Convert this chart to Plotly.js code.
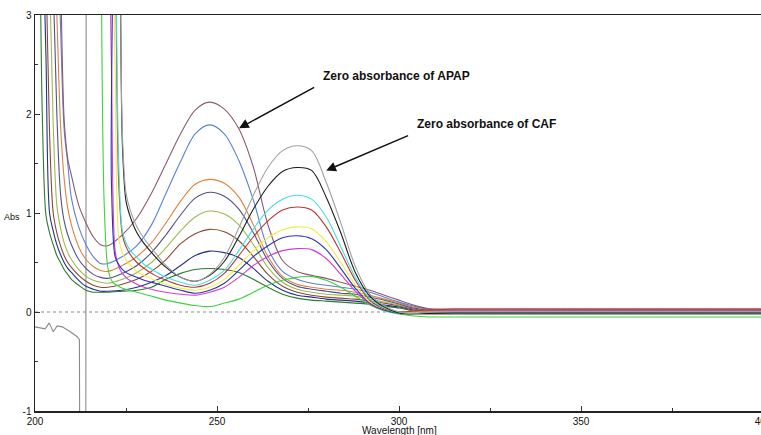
<!DOCTYPE html>
<html>
<head>
<meta charset="utf-8">
<script src="https://cdn.plot.ly/plotly-3.0.1.min.js"></script>
<style>
html,body{margin:0;padding:0;overflow:hidden;background:#fff;}
#chart{width:763px;height:435px;}
</style>
</head>
<body>
<div id="chart"></div>
<script>
// Wavelength grids (nm)
var wlA = [200,201,202,203,204,205,206,207,208,209,210,212,214,216,218,220,224,228,232,236,240,244,248,252,256,260,264,268,272,276,280,284,288,292,296,300,304,308,315,330,350,375,400];
var wlC = [218,219,220,221,222,223,224,225,226,228,230,233,236,240,244,248,252,256,260,264,268,272,276,280,284,288,292,296,300,304,308,315,330,350,375,400];

// APAP-containing spectra (absorbance)
var apapMauve = [5,5,5,5,5,4.8,4.4,3.4,1.95,1.55,1.38,1.08,0.9,0.76,0.68,0.67,0.78,0.95,1.2,1.5,1.8,2.04,2.12,2.05,1.85,1.46,0.88,0.52,0.41,0.37,0.34,0.3,0.26,0.22,0.17,0.12,0.07,0.035,0.03,0.03,0.03,0.03,0.03];
var apapBlue  = [5,5,5,5,5,5,4.0,2.9,1.85,1.5,1.15,0.86,0.68,0.56,0.49,0.49,0.56,0.67,0.88,1.2,1.52,1.8,1.89,1.8,1.53,1.13,0.64,0.41,0.33,0.29,0.27,0.25,0.23,0.2,0.15,0.1,0.06,0.03,0.02,0.02,0.02,0.02,0.02];
var apapOrange= [5,5,5,5,5,4.0,3.0,1.9,1.35,1.05,0.88,0.66,0.53,0.46,0.42,0.41,0.47,0.56,0.7,0.9,1.12,1.29,1.34,1.3,1.16,0.88,0.56,0.36,0.28,0.25,0.23,0.22,0.2,0.17,0.13,0.09,0.05,0.025,0.02,0.02,0.025,0.025,0.025];
var apapSlate = [5,5,5,5,4.0,3.3,2.0,1.2,0.92,0.78,0.68,0.53,0.44,0.38,0.35,0.34,0.39,0.47,0.6,0.78,0.98,1.15,1.21,1.17,1.04,0.8,0.52,0.34,0.26,0.23,0.21,0.19,0.18,0.15,0.12,0.08,0.04,0.02,0.015,0.015,0.015,0.015,0.015];
var apapOlive = [5,5,5,4.2,3.4,1.9,1.08,0.85,0.7,0.6,0.53,0.43,0.36,0.32,0.3,0.29,0.33,0.4,0.5,0.65,0.82,0.96,1.02,0.99,0.88,0.68,0.45,0.3,0.23,0.2,0.18,0.17,0.16,0.13,0.1,0.07,0.04,0.02,0.015,0.015,0.015,0.015,0.015];
var apapBrown = [5,5,4.5,3.5,1.8,1.0,0.8,0.67,0.57,0.5,0.45,0.37,0.31,0.27,0.25,0.25,0.28,0.33,0.41,0.53,0.69,0.79,0.835,0.81,0.72,0.56,0.38,0.26,0.2,0.17,0.15,0.14,0.13,0.11,0.09,0.06,0.03,0.015,0.01,0.01,0.01,0.01,0.01];
var apapNavy  = [5,5,4.0,2.6,1.0,0.82,0.68,0.58,0.5,0.44,0.4,0.32,0.26,0.23,0.21,0.21,0.22,0.25,0.3,0.37,0.47,0.57,0.615,0.6,0.55,0.44,0.31,0.22,0.17,0.15,0.13,0.12,0.11,0.09,0.07,0.05,0.02,0.0,-0.01,-0.01,-0.01,-0.01,-0.01];
var apapGreen = [5,4.3,2.0,0.98,0.8,0.68,0.57,0.5,0.43,0.38,0.33,0.27,0.22,0.2,0.2,0.2,0.21,0.22,0.25,0.33,0.39,0.43,0.44,0.43,0.4,0.33,0.25,0.18,0.14,0.12,0.11,0.1,0.09,0.08,0.06,0.04,0.01,-0.01,-0.02,-0.02,-0.02,-0.02,-0.02];

// CAF-containing spectra (absorbance)
var cafGray    = [5,5,5,5,5,4.5,1.8,1.2,1.05,0.86,0.74,0.6,0.47,0.35,0.31,0.38,0.55,0.85,1.18,1.46,1.63,1.68,1.63,1.31,0.9,0.46,0.18,0.06,0.0,-0.02,-0.025,-0.025,-0.025,-0.025,-0.025,-0.025];
var cafBlack   = [5,5,5,5,5,4.5,1.7,1.12,0.98,0.8,0.69,0.56,0.45,0.35,0.31,0.37,0.51,0.76,1.04,1.27,1.42,1.46,1.43,1.16,0.8,0.4,0.16,0.05,-0.01,-0.02,-0.015,-0.01,-0.01,-0.01,-0.01,-0.01];
var cafCyan    = [5,5,5,5,4.0,1.5,0.82,0.7,0.63,0.55,0.48,0.41,0.35,0.3,0.27,0.32,0.42,0.62,0.84,1.03,1.14,1.18,1.14,0.96,0.66,0.35,0.13,0.04,-0.01,-0.02,-0.02,-0.02,-0.02,-0.02,-0.02,-0.02];
var cafRed     = [5,5,5,5,3.8,1.3,0.78,0.66,0.59,0.5,0.44,0.37,0.32,0.27,0.25,0.29,0.39,0.57,0.76,0.92,1.03,1.06,1.03,0.86,0.6,0.32,0.12,0.03,0.0,0.01,0.02,0.03,0.03,0.03,0.03,0.03];
var cafYellow  = [5,5,5,4.2,2.5,0.75,0.6,0.53,0.48,0.41,0.37,0.32,0.28,0.24,0.22,0.25,0.33,0.47,0.62,0.75,0.83,0.86,0.84,0.71,0.5,0.27,0.1,0.03,0.0,0.0,0.0,0.0,0.0,0.0,0.0,0.0];
var cafBlue    = [5,5,5,1.3,0.56,0.48,0.43,0.4,0.38,0.35,0.32,0.29,0.26,0.22,0.19,0.22,0.29,0.42,0.56,0.67,0.75,0.77,0.74,0.63,0.44,0.24,0.09,0.02,-0.01,0.0,0.0,0.0,0.0,0.0,0.0,0.0];
var cafMagenta = [5,5,4.5,2.5,0.62,0.46,0.39,0.35,0.32,0.28,0.25,0.22,0.2,0.18,0.17,0.2,0.25,0.35,0.47,0.56,0.62,0.64,0.63,0.54,0.38,0.21,0.08,0.02,0.0,0.01,0.01,0.01,0.01,0.01,0.01,0.01];
var cafGreen   = [5,1.1,0.45,0.32,0.28,0.26,0.24,0.23,0.22,0.2,0.18,0.15,0.12,0.09,0.065,0.055,0.09,0.13,0.2,0.27,0.32,0.35,0.36,0.32,0.25,0.16,0.07,0.01,-0.02,-0.04,-0.05,-0.05,-0.05,-0.05,-0.05,-0.05];

// Blank (noisy) trace
var blankX = [200,201.4,202.8,203.9,205,206.1,207.5,209.7,211.6,212.2,212.5,213.9,214.1,216];
var blankY = [-0.15,-0.16,-0.17,-0.11,-0.2,-0.14,-0.15,-0.2,-0.25,-0.28,-4,-4,5,5];

var xTicks = [200,250,300,350,400];
var yTicks = [-1,0,1,2,3];

var FONT = 'Liberation Sans Narrow, Arial Narrow, Liberation Sans, Arial, sans-serif';

function tr(x, y, color, shape){
  return {x:x, y:y, type:'scatter', mode:'lines', hoverinfo:'skip',
          line:{color:color, width:1.1, shape:shape||'spline', smoothing:0.9}};
}

var data = [
  tr(blankX, blankY, '#8a8a8a', 'linear'),
  tr(wlA, apapGreen, '#2e7b2e'),
  tr(wlA, apapNavy, '#24328a'),
  tr(wlA, apapBrown, '#8a4a30'),
  tr(wlA, apapOlive, '#9dbb4f'),
  tr(wlA, apapSlate, '#50508e'),
  tr(wlA, apapOrange, '#e0813d'),
  tr(wlA, apapBlue, '#5b80d8'),
  tr(wlA, apapMauve, '#8c5a70'),
  tr(wlC, cafGreen, '#3fd23f'),
  tr(wlC, cafMagenta, '#d040d0'),
  tr(wlC, cafBlue, '#3030b8'),
  tr(wlC, cafYellow, '#efef3a'),
  tr(wlC, cafRed, '#c03434'),
  tr(wlC, cafCyan, '#3fe0e0'),
  tr(wlC, cafBlack, '#1e1e1e'),
  tr(wlC, cafGray, '#a0a0a0')
];

var layout = {
  width:763, height:435,
  margin:{l:35, r:0, t:15, b:24},
  paper_bgcolor:'#fff', plot_bgcolor:'#fff',
  showlegend:false,
  font:{family:FONT, size:10, color:'#111'},
  xaxis:{range:[200,400], tickvals:xTicks, ticktext:xTicks.map(String),
         ticks:'inside', ticklen:5, tickwidth:1, tickcolor:'#333',
         showline:true, linecolor:'#222', linewidth:1.5, mirror:true,
         showgrid:false, zeroline:false, ticklabeloverflow:'allow',
         tickfont:{family:FONT, size:10, color:'#111'},
         minor:{dtick:25, tick0:200, ticks:'inside', ticklen:3, tickcolor:'#333', showgrid:false}},
  yaxis:{range:[-1,3], tickvals:yTicks, ticktext:yTicks.map(String),
         ticks:'inside', ticklen:5, tickwidth:1, tickcolor:'#333',
         showline:true, linecolor:'#222', linewidth:1.5, mirror:true,
         showgrid:false, zeroline:false, ticklabeloverflow:'allow',
         tickfont:{family:FONT, size:10, color:'#111'},
         minor:{dtick:0.5, tick0:0, ticks:'inside', ticklen:3, tickcolor:'#333', showgrid:false}},
  shapes:[{type:'line', xref:'paper', x0:0, x1:1, yref:'y', y0:0, y1:0, layer:'below',
           line:{color:'#8a8a8a', width:1, dash:'dot'}}],
  annotations:[
    {text:'Abs', xref:'paper', x:-0.046, yref:'y', y:0.96, xanchor:'left', yanchor:'middle', showarrow:false,
     font:{family:FONT, size:9, color:'#111'}},
    {text:'Wavelength [nm]', xref:'paper', x:0.5, yref:'paper', y:-0.048, xanchor:'center', yanchor:'middle', showarrow:false,
     font:{family:FONT, size:10, color:'#111'}},
    {text:'<b>Zero absorbance of APAP</b>', xref:'x', x:278.7, yref:'y', y:2.384, xanchor:'left', yanchor:'middle',
     showarrow:false, font:{family:'Liberation Sans, Arial, sans-serif', size:12, color:'#111'}},
    {text:'<b>Zero absorbance of CAF</b>', xref:'x', x:304.3, yref:'y', y:1.899, xanchor:'left', yanchor:'middle',
     showarrow:false, font:{family:'Liberation Sans, Arial, sans-serif', size:12, color:'#111'}},
    {text:'', xref:'x', yref:'y', x:256.05, y:1.856, axref:'x', ayref:'y', ax:277.1, ay:2.278,
     showarrow:true, arrowhead:2, arrowsize:1.3, arrowwidth:1.5, arrowcolor:'#111'},
    {text:'', xref:'x', yref:'y', x:280.0, y:1.429, axref:'x', ayref:'y', ax:302.9, ay:1.788,
     showarrow:true, arrowhead:2, arrowsize:1.3, arrowwidth:1.5, arrowcolor:'#111'}
  ]
};

Plotly.newPlot('chart', data, layout, {displayModeBar:false, staticPlot:true});
</script>
</body>
</html>
